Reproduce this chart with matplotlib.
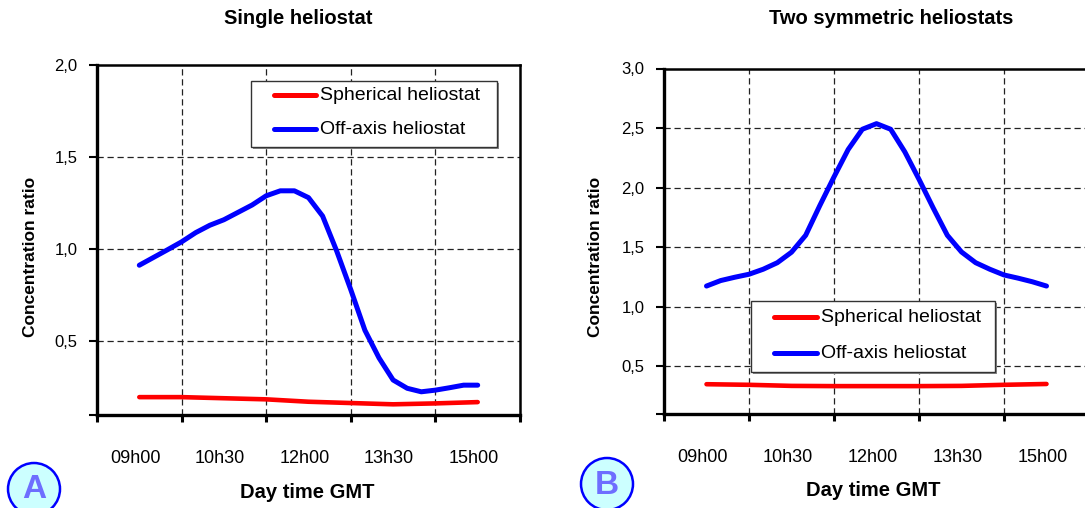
import matplotlib
matplotlib.use("Agg")
import matplotlib.pyplot as plt
from matplotlib.patches import Rectangle, Ellipse
from matplotlib.lines import Line2D
from matplotlib.transforms import ScaledTranslation

plt.rcParams['font.family'] = ['Liberation Sans', 'DejaVu Sans']

# ---------------- data ----------------
tick_labels = ["09h00", "10h30", "12h00", "13h30", "15h00"]
label_hours = [9.0, 10.5, 12.0, 13.5, 15.0]

hours_fine = [9.0, 9.25, 9.5, 9.75, 10.0, 10.25, 10.5, 10.75, 11.0, 11.25, 11.5, 11.75,
              12.0, 12.25, 12.5, 12.75, 13.0, 13.25, 13.5, 13.75, 14.0, 14.25, 14.5, 14.75, 15.0]
hours_coarse = [9.0, 9.75, 10.5, 11.25, 12.0, 12.75, 13.5, 14.25, 15.0]

# Panel A: single heliostat
a_offaxis = [0.913, 0.955, 0.997, 1.04, 1.09, 1.13, 1.16, 1.20, 1.24, 1.29, 1.317, 1.317,
             1.28, 1.18, 0.99, 0.78, 0.56, 0.41, 0.29, 0.245, 0.226, 0.235, 0.248, 0.262, 0.262]
a_spherical = [0.197, 0.197, 0.191, 0.185, 0.172, 0.165, 0.158, 0.163, 0.170]

# Panel B: two symmetric heliostats
b_offaxis = [1.174, 1.22, 1.248, 1.273, 1.315, 1.37, 1.458, 1.60, 1.85, 2.09, 2.32, 2.49,
             2.537, 2.49, 2.30, 2.07, 1.83, 1.60, 1.46, 1.37, 1.315, 1.267, 1.24, 1.21, 1.174]
b_spherical = [0.350, 0.345, 0.336, 0.334, 0.334, 0.334, 0.336, 0.345, 0.352]

series_names = ["Spherical heliostat", "Off-axis heliostat"]
yticks_A = [0.5, 1.0, 1.5, 2.0]
yticks_B = [0.5, 1.0, 1.5, 2.0, 2.5, 3.0]

W, H = 1085, 508
fig = plt.figure(figsize=(W / 100, H / 100), dpi=100)


def fx(px):
    return px / W


def fy(py):
    return 1 - py / H


RED = "#ff0000"
BLUE = "#0000ff"
bounds = [8.25, 9.75, 11.25, 12.75, 14.25, 15.75]


def make_panel(rect, ymax, yticks, off, sph):
    ax = fig.add_axes(rect)
    ax.set_xlim(8.25, 15.75)
    ax.set_ylim(0.1, ymax)
    ax.set_xticks(bounds)
    ax.set_xticklabels([])
    ax.set_xticks(label_hours, minor=True)
    ax.set_xticklabels(tick_labels, minor=True, fontsize=13)
    ax.tick_params(axis='x', which='minor', length=0, pad=25)
    ax.tick_params(axis='x', which='major', direction='out', length=5, width=2.2)
    shift = ScaledTranslation(-4 / 100, 0, fig.dpi_scale_trans)
    for lab in ax.get_xticklabels(minor=True):
        lab.set_transform(lab.get_transform() + shift)
    ax.set_yticks([0.1] + yticks)
    ax.set_yticklabels([""] + [f"{v:.1f}".replace(".", ",") for v in yticks], fontsize=12)
    ax.tick_params(axis='y', direction='out', length=6, width=1.5, pad=8)
    for v in yticks[:-1]:
        ax.axhline(v, color="#222222", lw=0.9, ls=(0, (5, 3)), zorder=1)
    for b in bounds[1:-1]:
        ax.axvline(b, color="#222222", lw=0.9, ls=(0, (5, 3)), zorder=1)
    ax.spines['left'].set_linewidth(2.4)
    ax.spines['bottom'].set_linewidth(2.4)
    ax.spines['top'].set_linewidth(1.8)
    ax.spines['right'].set_linewidth(1.8)
    ax.plot(hours_coarse, sph, color=RED, lw=3.3, solid_capstyle='round', zorder=3)
    ax.plot(hours_fine, off, color=BLUE, lw=3.6, solid_capstyle='round', zorder=4)
    return ax


axA = make_panel([fx(97), fy(415), fx(520 - 97), fy(65) - fy(415)], 2.0, yticks_A, a_offaxis, a_spherical)
axB = make_panel([fx(664), fy(414), fx(1089 - 664), fy(68.5) - fy(414)], 3.0, yticks_B, b_offaxis, b_spherical)


def legend_box(x0, y0, x1, y1, rows, line_x0, line_x1, text_x):
    fig.add_artist(Rectangle((fx(x0 + 2), fy(y1 + 2)), fx(x1 - x0), fy(y0) - fy(y1),
                             facecolor="#888888", edgecolor="none", zorder=5))
    fig.add_artist(Rectangle((fx(x0), fy(y1)), fx(x1 - x0), fy(y0) - fy(y1),
                             facecolor="white", edgecolor="#333333", lw=1.0, zorder=6))
    for (ry, name, col) in rows:
        fig.add_artist(Line2D([fx(line_x0), fx(line_x1)], [fy(ry), fy(ry)], color=col, lw=3.6,
                              solid_capstyle='round', zorder=7))
        fig.text(fx(text_x), fy(ry), name, fontsize=14, va='center', ha='left', zorder=7)


legend_box(251, 81, 497, 147, [(95, series_names[0], RED), (129, series_names[1], BLUE)], 274, 316, 320)
legend_box(751, 301, 995, 372, [(317, series_names[0], RED), (353, series_names[1], BLUE)], 774, 817, 821)

# titles
fig.text(fx(298), fy(18), "Single heliostat", fontsize=14.5, fontweight='bold', ha='center', va='center')
fig.text(fx(891), fy(18), "Two symmetric heliostats", fontsize=14.5, fontweight='bold', ha='center', va='center')

# axis labels
fig.text(fx(307), fy(493), "Day time GMT", fontsize=14.5, fontweight='bold', ha='center', va='center')
fig.text(fx(873), fy(490), "Day time GMT", fontsize=14.5, fontweight='bold', ha='center', va='center')
fig.text(fx(31), fy(257), "Concentration ratio", fontsize=12.5, fontweight='bold', rotation=90,
         ha='center', va='center')
fig.text(fx(596), fy(257), "Concentration ratio", fontsize=12.5, fontweight='bold', rotation=90,
         ha='center', va='center')

# panel badges
for (cx, cy, letter) in [(34, 489, "A"), (607, 484, "B")]:
    fig.add_artist(Ellipse((fx(cx), fy(cy)), fx(52), 52 / H, facecolor="#ccffff",
                           edgecolor="#0000ff", lw=1.8, zorder=8))
    fig.text(fx(cx), fy(cy + 1), letter, fontsize=24, fontweight='bold', color="#6e6eff",
             ha='center', va='center', zorder=9)

fig.savefig("out.png", dpi=100)
